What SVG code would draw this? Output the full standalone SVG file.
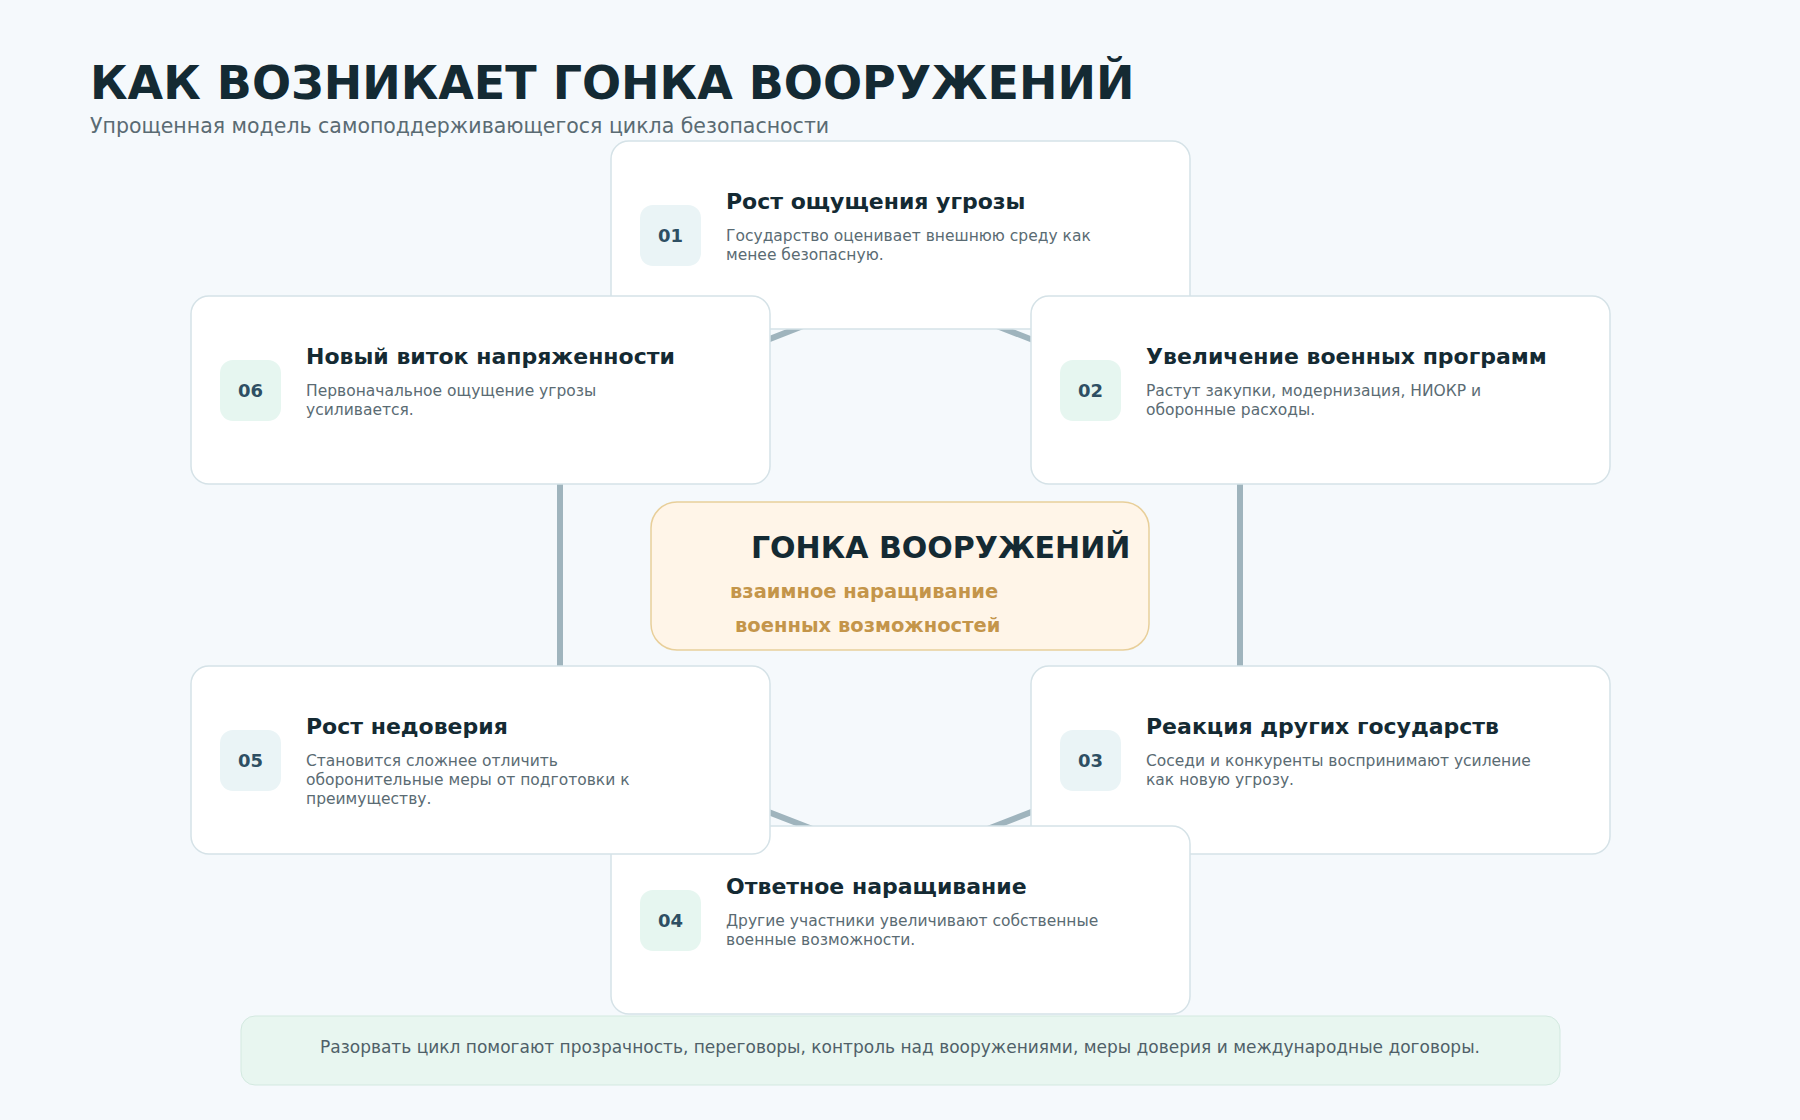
<svg xmlns="http://www.w3.org/2000/svg" width="1800" height="1120" viewBox="0 0 1800 1120">
<style>
text{font-family:"DejaVu Sans",sans-serif}
.box{fill:#fff;stroke:#d5e2e7;stroke-width:1.5}
.bb{fill:#eaf4f6}.bg{fill:#e6f6f0}
.num{font-size:18px;font-weight:bold;fill:#2e4f63;text-anchor:middle}
.t{font-size:22px;font-weight:bold;fill:#142a33}
.d{font-size:15.5px;fill:#5a6b73}
</style>
<rect width="1800" height="1120" fill="#f5f9fc"/>
<text x="90" y="99" font-size="46" font-weight="bold" fill="#142a33">КАК ВОЗНИКАЕТ ГОНКА ВООРУЖЕНИЙ</text>
<text x="90" y="133" font-size="20.5" fill="#5a6b73">Упрощенная модель самоподдерживающегося цикла безопасности</text>
<g id="connectors"><polygon points="900,288 1240,421 1240,731 900,863 560,731 560,421" fill="none" stroke="#9fb4bd" stroke-width="6"/></g>
<g id="n01" transform="translate(611,141)"><rect class="box" width="579" height="188" rx="18"/><rect class="bb" x="29" y="64" width="61" height="61" rx="13"/><text class="num" x="59.5" y="101">01</text><text class="t" x="115" y="68">Рост ощущения угрозы</text><text class="d" x="115" y="100">Государство оценивает внешнюю среду как</text><text class="d" x="115" y="119">менее безопасную.</text></g>
<g id="n02" transform="translate(1031,296)"><rect class="box" width="579" height="188" rx="18"/><rect class="bg" x="29" y="64" width="61" height="61" rx="13"/><text class="num" x="59.5" y="101">02</text><text class="t" x="115" y="68">Увеличение военных программ</text><text class="d" x="115" y="100">Растут закупки, модернизация, НИОКР и</text><text class="d" x="115" y="119">оборонные расходы.</text></g>
<g id="n03" transform="translate(1031,666)"><rect class="box" width="579" height="188" rx="18"/><rect class="bb" x="29" y="64" width="61" height="61" rx="13"/><text class="num" x="59.5" y="101">03</text><text class="t" x="115" y="68">Реакция других государств</text><text class="d" x="115" y="100">Соседи и конкуренты воспринимают усиление</text><text class="d" x="115" y="119">как новую угрозу.</text></g>
<g id="n04" transform="translate(611,826)"><rect class="box" width="579" height="188" rx="18"/><rect class="bg" x="29" y="64" width="61" height="61" rx="13"/><text class="num" x="59.5" y="101">04</text><text class="t" x="115" y="68">Ответное наращивание</text><text class="d" x="115" y="100">Другие участники увеличивают собственные</text><text class="d" x="115" y="119">военные возможности.</text></g>
<g id="n05" transform="translate(191,666)"><rect class="box" width="579" height="188" rx="18"/><rect class="bb" x="29" y="64" width="61" height="61" rx="13"/><text class="num" x="59.5" y="101">05</text><text class="t" x="115" y="68">Рост недоверия</text><text class="d" x="115" y="100">Становится сложнее отличить</text><text class="d" x="115" y="119">оборонительные меры от подготовки к</text><text class="d" x="115" y="138">преимуществу.</text></g>
<g id="n06" transform="translate(191,296)"><rect class="box" width="579" height="188" rx="18"/><rect class="bg" x="29" y="64" width="61" height="61" rx="13"/><text class="num" x="59.5" y="101">06</text><text class="t" x="115" y="68">Новый виток напряженности</text><text class="d" x="115" y="100">Первоначальное ощущение угрозы</text><text class="d" x="115" y="119">усиливается.</text></g>
<g id="center"><rect x="651" y="502" width="498" height="148" rx="26" fill="#fff5e8" stroke="#e8cf9a" stroke-width="1.5"/><text x="751" y="558" font-size="30" font-weight="bold" fill="#142a33">ГОНКА ВООРУЖЕНИЙ</text><text x="730" y="598" font-size="19.5" font-weight="bold" fill="#c4954a">взаимное наращивание</text><text x="735" y="632" font-size="19.5" font-weight="bold" fill="#c4954a">военных возможностей</text></g>
<g id="note"><rect x="241" y="1016" width="1319" height="69" rx="14" fill="#e8f6f0" stroke="#d3e9e0" stroke-width="1"/><text x="900" y="1053" font-size="17" fill="#4f6068" text-anchor="middle">Разорвать цикл помогают прозрачность, переговоры, контроль над вооружениями, меры доверия и международные договоры.</text></g>
</svg>
